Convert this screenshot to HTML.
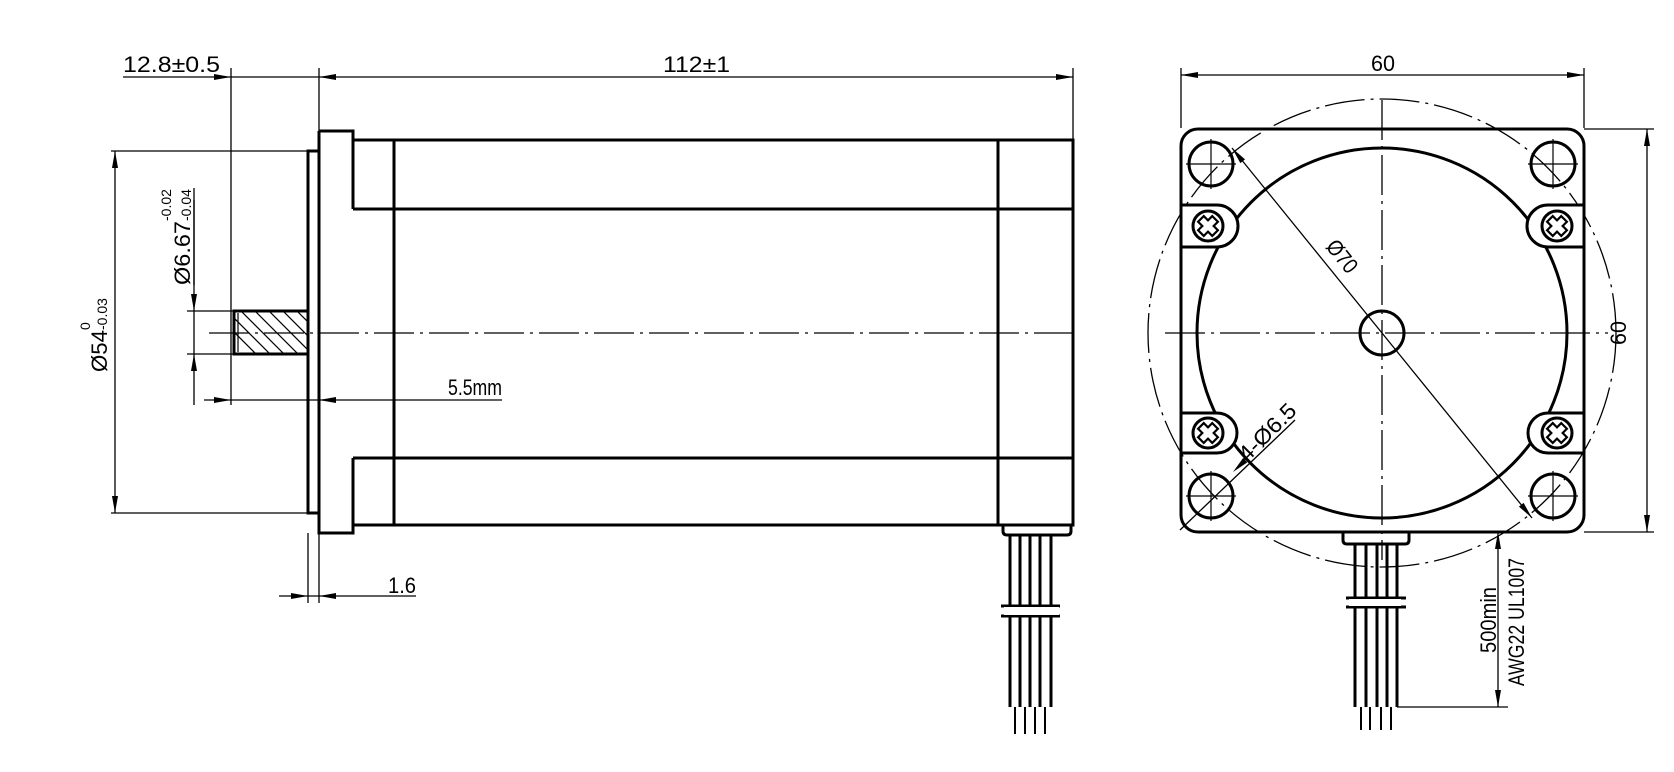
<!DOCTYPE html>
<html><head><meta charset="utf-8"><style>
html,body{margin:0;padding:0;background:#fff}
svg{display:block}
text{font-family:"Liberation Sans",sans-serif;fill:#000}
</style></head><body>
<svg width="1674" height="772" viewBox="0 0 1674 772" xmlns="http://www.w3.org/2000/svg">
<defs>
<clipPath id="sh"><rect x="234" y="311" width="74" height="43"/></clipPath>
</defs>
<g stroke="#000" fill="none" stroke-linecap="butt">
<g stroke-width="1.3">
<line x1="123" y1="77" x2="1073" y2="77"/>
<line x1="231" y1="68" x2="231" y2="405"/>
<line x1="319" y1="68" x2="319" y2="131"/>
<line x1="1073" y1="68" x2="1073" y2="140"/>
<line x1="111" y1="151" x2="308" y2="151"/>
<line x1="111" y1="513" x2="308" y2="513"/>
<line x1="115" y1="151" x2="115" y2="513"/>
<line x1="187" y1="311" x2="234" y2="311"/>
<line x1="187" y1="354" x2="234" y2="354"/>
<line x1="194" y1="188" x2="194" y2="285"/>
<line x1="194" y1="200" x2="194" y2="405"/>
<line x1="204" y1="400" x2="502" y2="400"/>
<line x1="308" y1="533" x2="308" y2="603"/>
<line x1="319" y1="533" x2="319" y2="603"/>
<line x1="279" y1="596" x2="416" y2="596"/>
<line x1="209" y1="333" x2="1073" y2="333" stroke-dasharray="40,6,3,6"/>
</g>
<g stroke-width="3">
<path d="M319,131 H353 V209 M353,458 V533 H319 V131"/>
<path d="M308,151 H319 V513 H308 Z"/>
<path d="M353,140 H1073 V525 H353 M353,209 H1073 M353,458 H1073"/>
<line x1="394" y1="140" x2="394" y2="525"/>
<line x1="998" y1="140" x2="998" y2="525"/>
<path d="M234,311 H308 V354 H234 Z"/>
<path d="M1003,525 V531 Q1003,535 1007,535 H1067 Q1071,535 1071,531 V525"/>
<line x1="1010" y1="535" x2="1010" y2="707"/>
<line x1="1020" y1="535" x2="1020" y2="707"/>
<line x1="1030" y1="535" x2="1030" y2="707"/>
<line x1="1040" y1="535" x2="1040" y2="707"/>
<line x1="1051" y1="535" x2="1051" y2="707"/>
<line x1="1001" y1="606" x2="1060" y2="606"/>
<line x1="1001" y1="616" x2="1060" y2="616"/>
</g>
<rect x="1004" y="607" width="55" height="8" fill="#fff" stroke="none"/>
<g stroke-width="2">
<line x1="1015" y1="707" x2="1015" y2="734"/>
<line x1="1025" y1="707" x2="1025" y2="734"/>
<line x1="1035" y1="707" x2="1035" y2="734"/>
<line x1="1045" y1="707" x2="1045" y2="734"/>
</g>
<g clip-path="url(#sh)" stroke-width="1.2">
<path d="M230,300 l70,70 M244,300 l70,70 M258,300 l70,70 M272,300 l70,70 M286,300 l70,70 M216,300 l70,70 M202,300 l70,70"/>
</g>
<line x1="238" y1="313" x2="238" y2="352" stroke-width="1.2"/>

<g stroke-width="1.3">
<line x1="1181" y1="68" x2="1181" y2="128"/>
<line x1="1584" y1="68" x2="1584" y2="128"/>
<line x1="1181" y1="75" x2="1584" y2="75"/>
<line x1="1584" y1="129" x2="1654" y2="129"/>
<line x1="1584" y1="532" x2="1654" y2="532"/>
<line x1="1647" y1="129" x2="1647" y2="532"/>
<line x1="1382" y1="100" x2="1382" y2="560" stroke-dasharray="40,6,3,6"/>
<line x1="1165" y1="333" x2="1608" y2="333" stroke-dasharray="40,6,3,6"/>
<circle cx="1382" cy="333" r="234" stroke-dasharray="40,6,3,6"/>
<line x1="1232" y1="148" x2="1532" y2="518"/>
<line x1="1180" y1="530" x2="1295" y2="420"/>
<line x1="1397" y1="707" x2="1508" y2="707"/>
<line x1="1498" y1="532" x2="1498" y2="707"/>
</g>
<g stroke-width="3">
<rect x="1181" y="129" width="403" height="403" rx="17" fill="none"/>
<circle cx="1382" cy="333" r="185"/>
<circle cx="1382" cy="333" r="22"/>
</g>
<g stroke-width="3" fill="#fff">
<path d="M1181,205 H1217 A21,21 0 0 1 1217,247 H1181"/>
<path d="M1181,413 H1217 A20,20 0 0 1 1217,453 H1181"/>
<path d="M1584,205 H1548 A21,21 0 0 0 1548,247 H1584"/>
<path d="M1584,413 H1548 A20,20 0 0 0 1548,453 H1584"/>
</g>
<path d="M1181,146 V515 M1584,146 V515" stroke-width="3"/>
<g stroke-width="3">
<circle cx="1208" cy="226" r="15"/><circle cx="1208" cy="433" r="15"/>
<circle cx="1557" cy="226" r="15"/><circle cx="1557" cy="433" r="15"/>
</g>
<g stroke-width="2.2" fill="#fff">
<path d="M-4,-10 H4 V-4 H10 V4 H4 V10 H-4 V4 H-10 V-4 H-4 Z" transform="translate(1208,226) rotate(45)"/>
<path d="M-4,-10 H4 V-4 H10 V4 H4 V10 H-4 V4 H-10 V-4 H-4 Z" transform="translate(1208,433) rotate(45)"/>
<path d="M-4,-10 H4 V-4 H10 V4 H4 V10 H-4 V4 H-10 V-4 H-4 Z" transform="translate(1557,226) rotate(45)"/>
<path d="M-4,-10 H4 V-4 H10 V4 H4 V10 H-4 V4 H-10 V-4 H-4 Z" transform="translate(1557,433) rotate(45)"/>
</g>
<g stroke-width="3">
<circle cx="1211" cy="164" r="22"/><circle cx="1553" cy="164" r="22"/>
<circle cx="1211" cy="496" r="22"/><circle cx="1553" cy="496" r="22"/>
</g>
<g stroke-width="1.2">
<path d="M1186,164 h50 M1211,139 v50 M1528,164 h50 M1553,139 v50 M1186,496 h50 M1211,471 v50 M1528,496 h50 M1553,471 v50"/>
</g>
<g stroke-width="3">
<path d="M1343,532 V540 Q1343,544 1347,544 H1405 Q1409,544 1409,540 V532"/>
<line x1="1355" y1="544" x2="1355" y2="707"/>
<line x1="1366" y1="544" x2="1366" y2="707"/>
<line x1="1377" y1="544" x2="1377" y2="707"/>
<line x1="1387" y1="544" x2="1387" y2="707"/>
<line x1="1397" y1="544" x2="1397" y2="707"/>
<line x1="1346" y1="598" x2="1406" y2="598"/>
<line x1="1346" y1="607" x2="1406" y2="607"/>
</g>
<rect x="1349" y="599" width="52" height="7" fill="#fff" stroke="none"/>
<g stroke-width="2">
<line x1="1361" y1="707" x2="1361" y2="730"/>
<line x1="1370" y1="707" x2="1370" y2="730"/>
<line x1="1381" y1="707" x2="1381" y2="730"/>
<line x1="1391" y1="707" x2="1391" y2="730"/>
</g>
</g>
<g fill="#000">
<polygon points="231,77 214,74 214,80"/>
<polygon points="319,77 336,74 336,80"/>
<polygon points="1073,77 1056,74 1056,80"/>
<polygon points="115,151 112,168 118,168"/>
<polygon points="115,513 112,496 118,496"/>
<polygon points="194,311 191,294 197,294"/>
<polygon points="194,354 191,371 197,371"/>
<polygon points="231,400 214,397 214,403"/>
<polygon points="319,400 336,397 336,403"/>
<polygon points="308,596 291,593 291,599"/>
<polygon points="319,596 336,593 336,599"/>
<polygon points="1181,75 1198,72 1198,78"/>
<polygon points="1584,75 1567,72 1567,78"/>
<polygon points="1647,129 1644,146 1650,146"/>
<polygon points="1647,532 1644,515 1650,515"/>
<polygon points="1498,532 1495,549 1501,549"/>
<polygon points="1498,707 1495,690 1501,690"/>
<polygon points="0,0 -17,-3 -17,3" transform="translate(1232,148) rotate(231)"/>
<polygon points="0,0 -17,-3 -17,3" transform="translate(1532,518) rotate(51)"/>
<polygon points="0,0 -17,-3 -17,3" transform="translate(1233,472) rotate(136)"/>
</g>
<g font-size="22">
<text x="123" y="72" textLength="97" lengthAdjust="spacingAndGlyphs">12.8±0.5</text>
<text x="663" y="72" textLength="67" lengthAdjust="spacingAndGlyphs">112±1</text>
<text x="1371" y="71" textLength="24" lengthAdjust="spacingAndGlyphs">60</text>
<text x="448" y="395" textLength="54" lengthAdjust="spacingAndGlyphs">5.5mm</text>
<text x="388" y="593" textLength="28" lengthAdjust="spacingAndGlyphs">1.6</text>
<text transform="translate(1626,345) rotate(-90)" textLength="24" lengthAdjust="spacingAndGlyphs">60</text>
<text transform="translate(1325,247) rotate(51)" textLength="36" lengthAdjust="spacingAndGlyphs">Ø70</text>
<text transform="translate(1247,463) rotate(-45)" textLength="72" lengthAdjust="spacingAndGlyphs">4-Ø6.5</text>
<text transform="translate(1496,653) rotate(-90)" textLength="66" lengthAdjust="spacingAndGlyphs">500min</text>
<text transform="translate(1524,686) rotate(-90)" textLength="128" lengthAdjust="spacingAndGlyphs">AWG22 UL1007</text>
<text transform="translate(107,372) rotate(-90)" textLength="42" lengthAdjust="spacingAndGlyphs">Ø54</text>
<text transform="translate(107,330) rotate(-90)" font-size="14">-0.03</text>
<text transform="translate(90,330) rotate(-90)" font-size="14">0</text>
<text transform="translate(190,285) rotate(-90)" textLength="64" lengthAdjust="spacingAndGlyphs">Ø6.67</text>
<text transform="translate(171,221) rotate(-90)" font-size="14">-0.02</text>
<text transform="translate(191,221) rotate(-90)" font-size="14">-0.04</text>
</g>
</svg>
</body></html>
